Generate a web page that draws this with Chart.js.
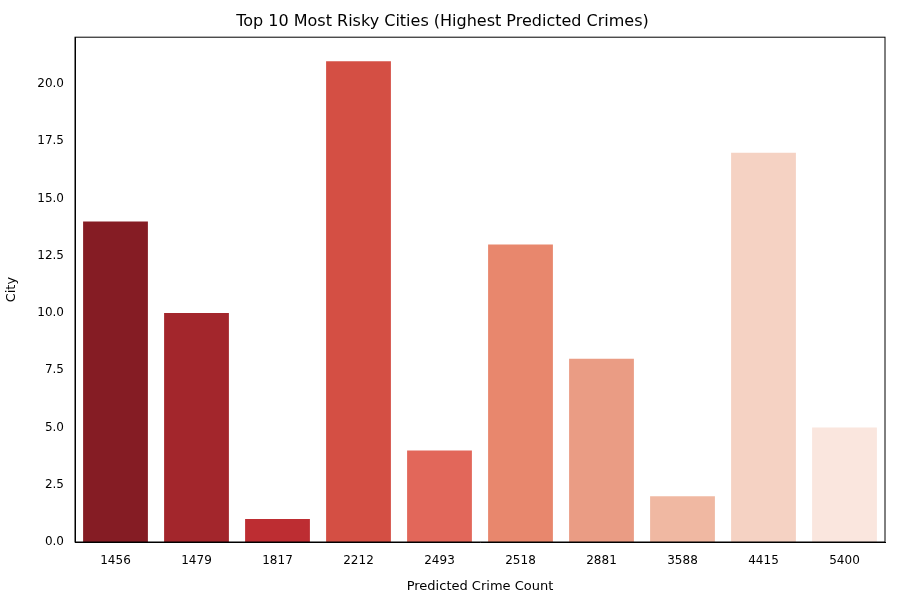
<!DOCTYPE html>
<html><head><script src="https://cdn.jsdelivr.net/npm/chart.js@4"></script>
<style>body{margin:0;background:#fff}#w{width:900px;height:600px}</style></head>
<body><div id="w"><canvas id="c"></canvas></div>
<script>
const categories=["1456","1479","1817","2212","2493","2518","2881","3588","4415","5400"];
const values=[14,10,1,21,4,13,8,2,17,5];
const colors=["#851c24","#a3262c","#bd2d32","#d44f44","#e2675a","#e8876d","#ea9c84","#f0b8a2","#f5d2c3","#fae6de"];
Chart.defaults.font.family="DejaVu Sans";
Chart.defaults.color="#000";
new Chart(document.getElementById('c'),{type:'bar',
data:{labels:categories,datasets:[{data:values,backgroundColor:colors,categoryPercentage:1,barPercentage:0.8}]},
options:{responsive:true,maintainAspectRatio:false,animation:false,
layout:{padding:{left:0,right:15,top:0,bottom:0}},
plugins:{legend:{display:false},tooltip:{enabled:false},
title:{display:true,text:'Top 10 Most Risky Cities (Highest Predicted Crimes)',font:{size:16,weight:'normal'},padding:{top:12,bottom:6}}},
scales:{
x:{grid:{display:false,drawTicks:true},border:{color:'#000'},ticks:{font:{size:12},padding:4},
title:{display:true,text:'Predicted Crime Count',font:{size:13},padding:{top:2,bottom:6}},
afterFit:s=>{s.height=58}},
y:{min:0,max:22.05,grid:{display:false},border:{color:'#000'},
afterBuildTicks:s=>{s.ticks=[0,2.5,5,7.5,10,12.5,15,17.5,20].map(v=>({value:v}))},
ticks:{font:{size:12},callback:v=>v.toFixed(1)},
title:{display:true,text:'City',font:{size:13}},
afterFit:s=>{s.width=75}}}},
plugins:[{id:'frame',afterDraw(c){const a=c.chartArea,x=c.ctx;x.save();x.strokeStyle='#000';x.lineWidth=1;x.strokeRect(a.left,a.top,a.right-a.left,a.bottom-a.top);x.restore();}}]
});
</script></body></html>
